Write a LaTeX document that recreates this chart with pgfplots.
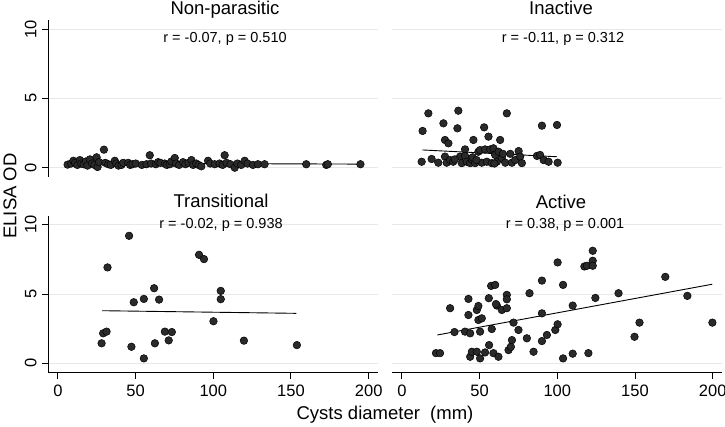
\documentclass[border=0pt]{standalone}
\usepackage{pgfplots}
\pgfplotsset{compat=1.18}
\usepackage{fontspec}
\setmainfont{Liberation Sans}
\definecolor{gridgray}{RGB}{232,232,232}
\definecolor{dotfill}{RGB}{42,42,42}
\pgfplotsset{
  panel/.style={
    scale only axis, width=330pt, height=157pt,
    xmin=-6.4, xmax=206, ymin=-0.67, ymax=10.65,
    axis lines=left,
    axis line style={-, line width=1pt, black},
    ytick={0,5,10}, xtick={0,50,100,150,200},
    ymajorgrids, grid style={line width=1pt, color=gridgray},
    tick align=outside, major tick length=6pt,
    tick style={black, line width=1pt},
    /pgf/number format/assume math mode=true,
    tick label style={font=\fontsize{16.5}{19}\selectfont},
    yticklabel style={rotate=90, anchor=south},
    yticklabel shift={2pt},
    xticklabel shift={2.5pt},
    clip=false,
  },
  toprow/.style={hide x axis},
  rightcol/.style={yticklabels={}, ytick style={draw=none}, y axis line style={draw=none}},
  dots/.style={only marks, mark=*, mark size=3.8pt, mark options={fill=dotfill, draw=black, line width=0.5pt}},
  fit/.style={no marks, black, line width=0.9pt},
}
\begin{document}
\begin{tikzpicture}[x=1pt,y=1pt]
\useasboundingbox (0,0) rectangle (725,427);

% Top-left: Non-parasitic
\begin{axis}[panel, toprow, at={(48pt,250pt)}, anchor=south west]
\addplot[fit] coordinates {(6.2,0.33) (194.7,0.26)};
\addplot[dots] coordinates {
(6.2,0.22) (8.5,0.30) (9.9,0.50) (11,0.35) (12.5,0.20) (14.1,0.55) (15,0.30)
(16.5,0.25) (18,0.45) (19,0.15) (20.6,0.60) (22,0.30) (23.5,0.20) (24.9,0.75)
(25.5,0.05) (26.5,0.40) (29.6,1.30) (30.5,0.35) (32.4,0.25) (34,0.20) (36.6,0.50)
(37.5,0.30) (39,0.15) (40.9,0.20) (42,0.35) (45.2,0.35) (46.5,0.20) (48,0.25)
(50.1,0.30) (54,0.20) (57,0.25) (59.1,0.90) (60,0.30) (63,0.25) (64.5,0.40)
(66,0.35) (68.8,0.30) (70,0.20) (72,0.25) (73,0.45) (75.2,0.70) (76,0.30)
(78,0.20) (80.5,0.40) (82,0.25) (84,0.35) (85.9,0.55) (87,0.20) (89,0.30)
(90.5,0.20) (92.3,0.10) (96.6,0.50) (98,0.30) (100.9,0.25) (104,0.30) (106,0.20)
(107.3,0.90) (108.5,0.35) (111,0.25) (113.8,0.00) (115.5,0.30) (118,0.20)
(120.2,0.50) (122,0.30) (125.5,0.20) (128.7,0.25) (133,0.25) (159.8,0.25)
(172.7,0.20) (173.7,0.25) (194.7,0.25)
};
\end{axis}

% Top-right: Inactive
\begin{axis}[panel, toprow, rightcol, at={(392pt,250pt)}, anchor=south west]
\addplot[fit] coordinates {(13.1,1.28) (99.8,0.79)};
\addplot[dots] coordinates {
(12.7,0.43) (13.3,2.65) (17,3.92) (19.1,0.63) (23.4,0.36) (26.7,3.20) (27.7,2.00)
(29.9,1.76) (27.7,0.80) (28.8,0.36) (31,0.55) (33,0.43) (36.3,4.11) (35.7,2.84)
(37.4,0.80) (38.5,0.33) (40.6,1.32) (40.6,0.85) (41.7,0.43) (43.9,0.33) (44.9,0.62)
(46,2.00) (47.1,0.33) (49.2,1.15) (50.3,1.27) (51.4,0.36) (52.9,2.91) (53.5,1.32)
(54.6,0.43) (55.7,2.24) (56.8,1.32) (57.8,0.33) (58.9,1.40) (60,0.92) (61.1,0.43)
(62.2,1.15) (63.2,2.00) (64.3,0.70) (66.5,0.36) (67.5,3.92) (69.7,1.00) (70.8,0.36)
(72.9,0.55) (75.1,1.20) (76.1,0.80) (77.2,0.33) (86.9,0.85) (88.9,0.92) (90.1,3.03)
(91.2,0.55) (94.4,0.43) (99.8,3.08) (100.2,0.36) (34,0.60) (45.5,0.75) (59.5,0.30)
(65,1.00) (48,0.55)
};
\end{axis}

% Bottom-left: Transitional
\begin{axis}[panel, at={(48pt,54.3pt)}, anchor=south west]
\addplot[fit] coordinates {(28.4,3.80) (153.4,3.61)};
\addplot[dots] coordinates {
(28.1,1.45) (29.1,2.17) (31.3,2.29) (31.9,6.92) (45.8,9.20) (47.3,1.20) (48.8,4.41)
(55.3,4.65) (55.3,0.36) (61.9,5.42) (62.4,1.45) (65.1,4.60) (68.8,2.29) (71.3,1.66)
(73.3,2.26) (90.8,7.83) (94,7.52) (100.1,3.04) (104.8,5.23) (104.8,4.63)
(119.7,1.64) (153.8,1.32)
};
\end{axis}

% Bottom-right: Active
\begin{axis}[panel, rightcol, at={(392pt,54.3pt)}, anchor=south west]
\addplot[fit] coordinates {(22.8,2.05) (199.8,5.71)};
\addplot[dots] coordinates {
(21.9,0.74) (24.5,0.74) (31,3.98) (33.8,2.26) (40.6,2.29) (42.8,4.65) (42.8,3.49)
(43.9,2.17) (43.9,0.48) (45,0.84) (48.2,3.85) (49.2,4.14) (49.2,3.13) (48.2,0.84)
(50.3,2.29) (50.3,0.36) (51.4,3.25) (53.5,0.79) (55.9,4.70) (56.1,1.32) (57.8,2.48)
(57.4,5.59) (60,5.66) (58.9,0.74) (61.1,4.17) (62.1,0.48) (60.5,4.28) (64.3,3.85)
(67.5,3.98) (67.5,4.94) (67.5,4.62) (68.6,0.96) (70.1,1.20) (70.8,1.68) (71.8,2.94)
(75,2.41) (80.4,1.81) (82.1,5.06) (84.7,0.84) (90.1,5.97) (90.1,3.61) (90.1,1.61)
(93.3,2.05) (98.7,2.41) (100.2,2.82) (100.2,7.28) (103.7,5.66) (103.7,0.36)
(109.9,4.17) (109.9,0.70) (117.4,6.99) (119.1,7.04) (120,0.74) (122.8,8.12)
(122.8,7.40) (122.8,7.04) (124.5,4.72) (139.4,5.06) (149.7,1.92) (152.9,2.94)
(169.5,6.24) (183.7,4.87) (199.8,2.94)
};
\end{axis}

% Titles
\begin{scope}[every node/.style={font=\fontsize{18.5}{21}\selectfont, anchor=base, inner sep=0pt}]
\node at (225,412) {Non-parasitic};
\node at (561,412) {Inactive};
\node at (221,219) {Transitional};
\node at (561,218) {Active};
\end{scope}
% Annotations
\begin{scope}[every node/.style={font=\fontsize{14.5}{17}\selectfont, anchor=base, inner sep=0pt}]
\node at (225,384.5) {r = -0.07, p = 0.510};
\node at (563,384.5) {r = -0.11, p = 0.312};
\node at (221,198) {r = -0.02, p = 0.938};
\node at (565,198) {r = 0.38, p = 0.001};
\end{scope}
% Axis titles
\node[font=\fontsize{18.5}{21}\selectfont, anchor=base, inner sep=0pt] at (385,7) {Cysts diameter\ \ (mm)};
\node[font=\fontsize{18.5}{21}\selectfont, rotate=90, inner sep=0pt] at (10,231) {ELISA OD};
\end{tikzpicture}
\end{document}
